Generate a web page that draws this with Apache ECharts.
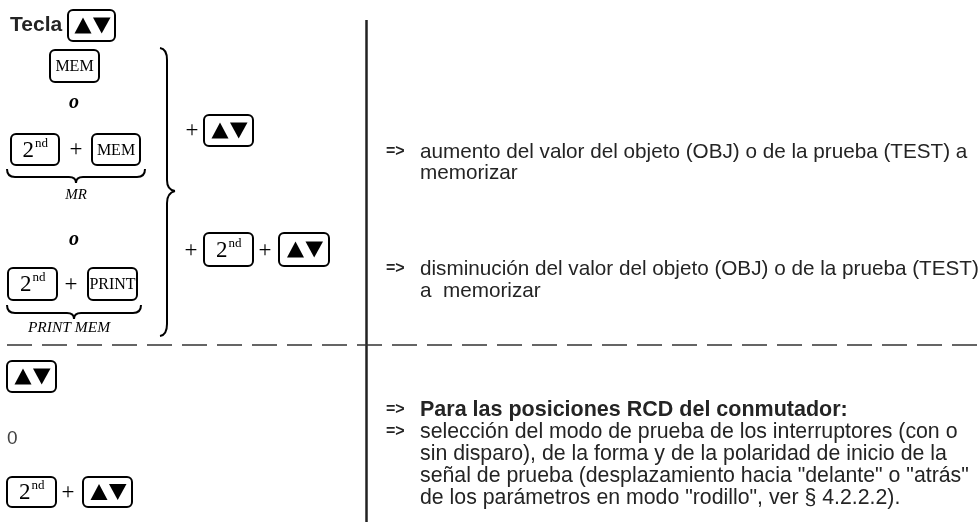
<!DOCTYPE html>
<html>
<head>
<meta charset="utf-8">
<script src="https://cdn.jsdelivr.net/npm/echarts@6/dist/echarts.min.js"></script>
<style>html,body{margin:0;padding:0;background:#fff}#c{width:980px;height:522px}</style>
</head>
<body>
<div id="c"></div>
<script>
// ---- content (texts) ----
const headerLabel = 'Tecla';
const keyLabels = ['MEM', 'PRINT'];
const braceLabels = ['MR', 'PRINT MEM'];
const orLabel = 'o';
const zeroLabel = '0';
const arrowMark = '=>';
const textBlock1 = ['aumento del valor del objeto (OBJ) o de la prueba (TEST) a', 'memorizar'];
const textBlock2 = ['disminución del valor del objeto (OBJ) o de la prueba (TEST)', 'a  memorizar'];
const bottomHeading = 'Para las posiciones RCD del conmutador:';
const textBlock3 = [
  'selección del modo de prueba de los interruptores (con o',
  'sin disparo), de la forma y de la polaridad de inicio de la',
  'señal de prueba (desplazamiento hacia "delante" o "atrás"',
  'de los parámetros en modo "rodillo", ver § 4.2.2.2).'
];

const SERIF = '"Liberation Serif", "Times New Roman", serif';
const SANS = '"Liberation Sans", Arial, sans-serif';
const TXT = '#242424';

const els = [];
const STROKE = {stroke: '#000', lineWidth: 2, fill: null};

function quad(x1, y1, cx, cy, x2, y2) {
  els.push({type: 'bezierCurve', shape: {x1: x1, y1: y1, cpx1: cx, cpy1: cy, x2: x2, y2: y2}, style: Object.assign({}, STROKE)});
}
function seg(x1, y1, x2, y2) {
  els.push({type: 'line', shape: {x1: x1, y1: y1, x2: x2, y2: y2}, style: Object.assign({}, STROKE)});
}

function key(x, y, w, h, kind) {
  els.push({type: 'rect', shape: {x: x, y: y, width: w, height: h, r: 5},
    style: {fill: '#fff', stroke: '#000', lineWidth: 2}});
  if (kind === 'arrows') {
    const ty0 = y + h / 2 - 8, ty1 = y + h / 2 + 8;
    const cx = x + w / 2;
    els.push({type: 'polygon', shape: {points: [[cx - 17, ty1], [cx - 8.5, ty0], [cx, ty1]]}, style: {fill: '#000'}});
    els.push({type: 'polygon', shape: {points: [[cx + 1.5, ty0], [cx + 19, ty0], [cx + 10.2, ty1]]}, style: {fill: '#000'}});
  } else if (kind === '2nd') {
    els.push({type: 'text', style: {x: x + w / 2 - 1, y: y + h / 2 + 1, text: '2', font: '23px ' + SERIF, fill: '#000', align: 'right', verticalAlign: 'middle'}});
    els.push({type: 'text', style: {x: x + w / 2, y: y + h / 2 - 6, text: 'nd', font: '13px ' + SERIF, fill: '#000', align: 'left', verticalAlign: 'middle'}});
  } else {
    els.push({type: 'text', style: {x: x + w / 2, y: y + h / 2 + 1, text: kind, font: '16px ' + SERIF, fill: '#000', align: 'center', verticalAlign: 'middle'}});
  }
}
function plus(x, y) {
  els.push({type: 'text', style: {x: x, y: y, text: '+', font: '23px ' + SERIF, fill: '#000', align: 'center', verticalAlign: 'middle'}});
}
function serifText(x, y, t, f) {
  els.push({type: 'text', style: {x: x, y: y, text: t, font: f + ' ' + SERIF, fill: '#000', align: 'center', verticalAlign: 'middle'}});
}
function underbrace(x1, x2, y0) {
  const cx = (x1 + x2) / 2, y1 = y0 + 8, y2 = y0 + 14;
  quad(x1, y0, x1, y1, x1 + 8, y1);
  seg(x1 + 8, y1, cx - 7, y1);
  quad(cx - 7, y1, cx, y1, cx, y2);
  quad(cx, y2, cx, y1, cx + 7, y1);
  seg(cx + 7, y1, x2 - 8, y1);
  quad(x2 - 8, y1, x2, y1, x2, y0);
}
function bodyLine(x, y, t, size, bold) {
  els.push({type: 'text', style: {x: x, y: y, text: t, font: (bold ? 'bold ' : '') + size + 'px ' + SANS, fill: TXT, align: 'left', verticalAlign: 'middle'}});
}
function arrowAt(y) {
  els.push({type: 'text', style: {x: 386, y: y, text: arrowMark, font: 'bold 16px ' + SANS, fill: TXT, align: 'left', verticalAlign: 'middle'}});
}

// header
els.push({type: 'text', style: {x: 10, y: 25, text: headerLabel, font: 'bold 21px ' + SANS, fill: TXT, align: 'left', verticalAlign: 'middle'}});
key(68, 10, 47, 31, 'arrows');

// left column
key(50, 50, 49, 32, keyLabels[0]);
serifText(74, 103, orLabel, 'italic bold 20px');
key(11, 134, 48, 31, '2nd');
plus(76, 150);
key(92, 134, 48, 31, keyLabels[0]);
underbrace(7, 145, 169);
serifText(76, 195, braceLabels[0], 'italic 15px');
serifText(74, 240, orLabel, 'italic bold 20px');
key(8, 268, 49, 32, '2nd');
plus(71, 285);
key(88, 268, 49, 32, keyLabels[1]);
underbrace(7, 141, 305);
serifText(69, 328, braceLabels[1], 'italic 15.5px');

// big right brace
quad(160, 48, 167, 49, 167, 60);
seg(167, 60, 167, 180);
quad(167, 180, 167, 190, 175, 191);
quad(175, 191, 167, 193, 167, 203);
seg(167, 203, 167, 324);
quad(167, 324, 167, 335, 160, 336);

plus(192, 131);
key(204, 115, 49, 31, 'arrows');
plus(191, 251);
key(204, 233, 49, 33, '2nd');
plus(265, 251);
key(279, 233, 50, 33, 'arrows');

// bottom left
key(7, 361, 49, 31, 'arrows');
els.push({type: 'text', style: {x: 7, y: 439, text: zeroLabel, font: '19px ' + SANS, fill: '#444', align: 'left', verticalAlign: 'middle'}});
key(7, 477, 49, 30, '2nd');
plus(68, 493);
key(83, 477, 49, 30, 'arrows');

// dividers
els.push({type: 'line', shape: {x1: 366.5, y1: 20, x2: 366.5, y2: 522}, style: {stroke: '#222', lineWidth: 2.5}});
els.push({type: 'line', shape: {x1: 7, y1: 345, x2: 980, y2: 345}, style: {stroke: '#333', lineWidth: 1.5, lineDash: [25, 10]}});

// right text
const TX = 420;
arrowAt(152); bodyLine(TX, 152, textBlock1[0], 20.7); bodyLine(TX, 173, textBlock1[1], 20.7);
arrowAt(269); bodyLine(TX, 269, textBlock2[0], 20.7); bodyLine(TX, 291, textBlock2[1], 20.7);
arrowAt(410); bodyLine(TX, 410, bottomHeading, 21.5, true);
arrowAt(432);
textBlock3.forEach(function (t, i) { bodyLine(TX, 432 + 22 * i, t, 21.3); });

const chart = echarts.init(document.getElementById('c'), null, {renderer: 'canvas'});
chart.setOption({backgroundColor: '#fff', animation: false, graphic: {elements: els}});
</script>
</body>
</html>
